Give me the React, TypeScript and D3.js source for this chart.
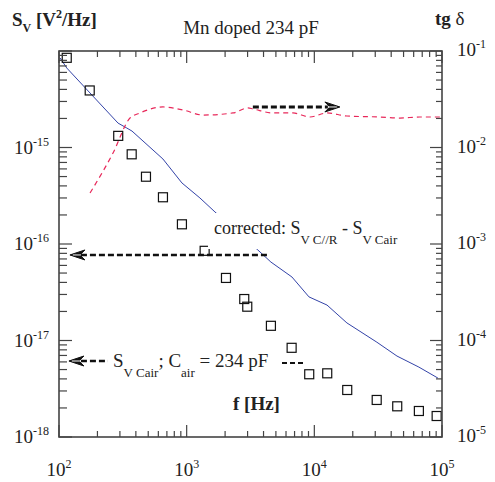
import React from 'react';
import * as d3 from 'd3';

// open squares (left axis, V^2/Hz)
const sqFreq = [115, 174, 291, 371, 480, 652, 918, 1383, 2032, 2825, 2983, 4570, 6640, 9120, 12620, 18100, 30800, 44600, 65900, 90800];
const sqSv = [8.5e-15, 3.9e-15, 1.32e-15, 8.5e-16, 4.98e-16, 3.05e-16, 1.6e-16, 8.5e-17, 4.45e-17, 2.69e-17, 2.24e-17, 1.42e-17, 8.4e-18, 4.47e-18, 4.57e-18, 3.07e-18, 2.42e-18, 2.08e-18, 1.86e-18, 1.65e-18];

// corrected spectrum (blue line, left axis)
const corrFreq = [102, 115, 290, 340, 373, 652, 918, 1270, 1665, 3610, 4570, 6680, 9080, 12570, 18000, 30900, 44400, 65900, 92900];
const corrSv = [8.46e-15, 6.67e-15, 1.79e-15, 1.59e-15, 1.48e-15, 7.6e-16, 4.29e-16, 3.0e-16, 2.15e-16, 8.67e-17, 6.5e-17, 4.55e-17, 2.83e-17, 2.33e-17, 1.52e-17, 9.6e-18, 6.9e-18, 5.3e-18, 4.08e-18];

// tg delta (red dashed, right axis)
const tgFreq = [175, 265, 360, 431, 652, 935, 1342, 2305, 3020, 3305, 4740, 6800, 9240, 12560, 18000, 32600, 46800, 67100, 96300];
const tgVal = [3.38e-3, 8.77e-3, 0.0202, 0.0228, 0.0263, 0.0245, 0.0217, 0.0228, 0.0257, 0.0251, 0.0228, 0.0228, 0.0207, 0.0228, 0.0212, 0.0207, 0.0202, 0.0207, 0.0207];

const xTickExp = [2, 3, 4, 5];
const leftTickExp = [-18, -17, -16, -15];
const rightTickExp = [-5, -4, -3, -2, -1];

const FONT = '"Liberation Serif", "Times New Roman", serif';

const Arrow = ({ x, y, dir }: { x: number; y: number; dir: number }) => {
  // fancy notched arrowhead, dir = 1 points right, -1 points left
  const s = dir;
  const d = `M${x},${y} L${x - s * 15},${y - 5} L${x - s * 10},${y} L${x - s * 15},${y + 5} Z`;
  return (
    <g>
      <path d={d} fill="#111" stroke="#111" strokeWidth={1} strokeLinejoin="miter" />
      <line x1={x - s * 3} y1={y} x2={x - s * 11} y2={y} stroke="#fff" strokeWidth={1} />
    </g>
  );
};

export default function App() {
  const left = 59, right = 442, top = 51, bottom = 437;
  const x = d3.scaleLog().domain([100, 1e5]).range([left, right]);
  const yL = d3.scaleLog().domain([1e-18, 1e-14]).range([bottom, top]);
  const yR = d3.scaleLog().domain([1e-5, 1e-1]).range([bottom, top]);

  const corrLine = d3.line<number>()
    .x((_, i) => x(corrFreq[i]))
    .y((d) => yL(d));
  const tgLine = d3.line<number>()
    .x((_, i) => x(tgFreq[i]))
    .y((d) => yR(d))
    .curve(d3.curveMonotoneX);

  const xTicks = x.ticks();
  const lTicks = yL.ticks();
  const rTicks = yR.ticks();
  const isMajor = (v: number) => Math.abs(Math.log10(v) - Math.round(Math.log10(v))) < 1e-6;

  const axisColor = '#444';

  // annotation anchors in data space
  const corrArrowY = yL(7.7e-17);
  const cairArrowY = yL(6.13e-18);
  const tgArrowY = yR(0.0263);

  return (
    <div style={{ position: 'absolute', left: 0, top: 0 }}>
      <svg width={495} height={482} style={{ display: 'block', background: '#fff' }} fontFamily={FONT}>
        {/* blue corrected line */}
        <path d={corrLine(corrSv) || ''} fill="none" stroke="#3343a8" strokeWidth={1} />
        {/* red tg delta */}
        <path d={tgLine(tgVal) || ''} fill="none" stroke="#e8285a" strokeWidth={1.2} strokeDasharray="5,4" />
        {/* squares */}
        {sqSv.map((v, i) => (
          <rect key={i} x={x(sqFreq[i]) - 4.5} y={yL(v) - 4.5} width={9} height={9} fill="none" stroke="#111" strokeWidth={1.2} />
        ))}

        {/* frame */}
        <rect x={left} y={top} width={right - left} height={bottom - top} fill="none" stroke={axisColor} strokeWidth={1.6} />

        {/* x ticks (top and bottom, inward) */}
        {xTicks.map((t, i) => {
          const len = isMajor(t) ? 12 : 6;
          return (
            <g key={i} stroke={axisColor} strokeWidth={1.2}>
              <line x1={x(t)} x2={x(t)} y1={bottom} y2={bottom - len} />
              <line x1={x(t)} x2={x(t)} y1={top} y2={top + len} />
            </g>
          );
        })}
        {/* left y ticks */}
        {lTicks.map((t, i) => {
          const len = isMajor(t) ? 13 : 8;
          return <line key={i} x1={left} x2={left + len} y1={yL(t)} y2={yL(t)} stroke={axisColor} strokeWidth={1.2} />;
        })}
        {/* right y ticks */}
        {rTicks.map((t, i) => {
          const len = isMajor(t) ? 12 : 6;
          return <line key={i} x1={right} x2={right - len} y1={yR(t)} y2={yR(t)} stroke={axisColor} strokeWidth={1.2} />;
        })}

        {/* tick labels */}
        {xTickExp.map((e) => (
          <text key={e} x={x(Math.pow(10, e))} y={476} fontSize={19} textAnchor="middle" fill="#222">
            10<tspan fontSize={12} dy={-8}>{e}</tspan>
          </text>
        ))}
        {leftTickExp.map((e) => (
          <text key={e} x={49} y={yL(Math.pow(10, e)) + 6} fontSize={19} textAnchor="end" fill="#222">
            10<tspan fontSize={12} dy={-8}>{e}</tspan>
          </text>
        ))}
        {rightTickExp.map((e) => (
          <text key={e} x={457} y={yR(Math.pow(10, e)) + 5} fontSize={19} fill="#222">
            10<tspan fontSize={12} dy={-8}>{e}</tspan>
          </text>
        ))}

        {/* axis titles */}
        <text x={12} y={26} fontSize={19} fontWeight="bold" fill="#222">
          S<tspan fontSize={12} dy={6}>V</tspan>
          <tspan dy={-6}> [V</tspan><tspan fontSize={12} dy={-8}>2</tspan><tspan dy={8}>/Hz]</tspan>
        </text>
        <text x={251} y={34} fontSize={19} textAnchor="middle" fill="#222">Mn doped 234 pF</text>
        <text x={435} y={25} fontSize={19} fill="#222">
          <tspan fontWeight="bold">tg</tspan> δ
        </text>
        <text x={233} y={410} fontSize={19} fontWeight="bold" fill="#222">f [Hz]</text>

        {/* corrected annotation */}
        <rect x={208} y={213} width={195} height={36} fill="#fff" />
        <text x={214} y={234} fontSize={18} fill="#222">
          corrected: S<tspan fontSize={13} dy={10}>V C//R</tspan>
          <tspan dy={-10}> - S</tspan><tspan fontSize={13} dy={10}>V Cair</tspan>
        </text>
        <line x1={x(124) + 10} x2={x(4260)} y1={corrArrowY} y2={corrArrowY} stroke="#111" strokeWidth={2.5} strokeDasharray="6,3" />
        <Arrow x={x(124) - 1} y={corrArrowY} dir={-1} />

        {/* Cair annotation */}
        <line x1={x(124) + 10} x2={x(242)} y1={cairArrowY} y2={cairArrowY} stroke="#111" strokeWidth={2.5} strokeDasharray="6,3" />
        <Arrow x={x(124) - 2} y={cairArrowY} dir={-1} />
        <text x={113} y={367} fontSize={19} fill="#222">
          S<tspan fontSize={13} dy={10}>V Cair</tspan>
          <tspan dy={-10}>; C</tspan><tspan fontSize={13} dy={10}>air</tspan>
          <tspan dy={-10}> = 234 pF</tspan>
        </text>
        <line x1={282} x2={304} y1={cairArrowY + 2} y2={cairArrowY + 2} stroke="#111" strokeWidth={2} strokeDasharray="5,3" />

        {/* tg annotation */}
        <line x1={x(3300)} x2={x(15850) - 12} y1={tgArrowY} y2={tgArrowY} stroke="#111" strokeWidth={3} strokeDasharray="6,3" />
        <Arrow x={x(15850)} y={tgArrowY} dir={1} />
      </svg>
    </div>
  );
}
